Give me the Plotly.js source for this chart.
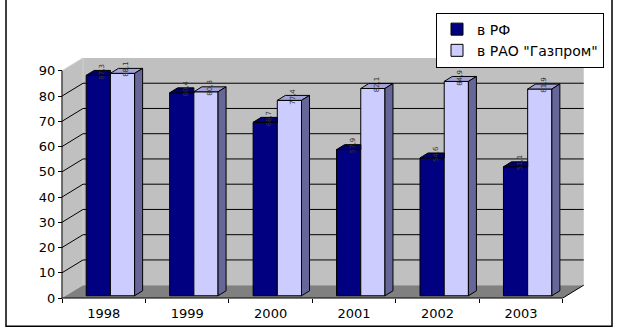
<!DOCTYPE html>
<html><head><meta charset="utf-8">
<script src="https://cdn.plot.ly/plotly-3.0.1.min.js"></script>
<style>html,body{margin:0;padding:0;background:#fff}</style>
</head><body><div id="chart" style="width:619px;height:334px"></div>
<script>
// ---- data ----
const years = ['1998', '1999', '2000', '2001', '2002', '2003'];
const valuesRF = [87.3, 80.4, 68.7, 57.9, 54.6, 51.1];
const valuesGazprom = [88.1, 80.8, 77.4, 82.1, 84.9, 81.9];
const valueTicks = [0, 10, 20, 30, 40, 50, 60, 70, 80, 90];
const seriesNames = ['в РФ', 'в РАО "Газпром"'];

// ---- 3D geometry (in axis units) ----
const DX = 0.252, DY = 5.09;      // depth of floor / walls
const OX = 0.05, OY = 0.9;        // bar front-face offset into depth
const BDX = 0.096, BDY = 1.96;    // bar depth
const W = 0.29, SHIFT = 0.03;     // bar width
const N = years.length;
const YMAX = valueTicks[valueTicks.length - 1];
const FONT = 'DejaVu Sans, Liberation Sans, Arial, sans-serif';

const colRF = {front: '#000080', top: '#00006a', side: '#000050'};
const colG = {front: '#ccccff', top: '#a3a3d6', side: '#666699'};

const xMid = years.map((_, i) => i + 0.5 + OX + SHIFT); // boundary between the two bars

function poly(list) { // list of polygons -> x,y arrays with null gaps
  const xs = [], ys = [];
  list.forEach(p => { p.forEach(pt => { xs.push(pt[0]); ys.push(pt[1]); }); xs.push(p[0][0]); ys.push(p[0][1]); xs.push(null); ys.push(null); });
  return {x: xs, y: ys};
}

const rfTops = [], rfSides = [], gTops = [], gSides = [];
for (let i = 0; i < N; i++) {
  const x1 = xMid[i], x0 = x1 - W, x2 = x1 + W;
  const r = valuesRF[i] + OY, g = valuesGazprom[i] + OY;
  if (valuesGazprom[i] >= valuesRF[i]) {
    rfTops.push([[x0, r], [x1, r], [x1, r + BDY], [x0 + BDX, r + BDY]]);
  } else {
    rfTops.push([[x0, r], [x1, r], [x1 + BDX, r + BDY], [x0 + BDX, r + BDY]]);
    rfSides.push([[x1, g], [x1, r], [x1 + BDX, r + BDY], [x1 + BDX, g + BDY]]);
  }
  gTops.push([[x1, g], [x2, g], [x2 + BDX, g + BDY], [x1 + BDX, g + BDY]]);
  gSides.push([[x2, OY], [x2, g], [x2 + BDX, g + BDY], [x2 + BDX, OY + BDY]]);
}

function faceTrace(list, color) {
  const p = poly(list);
  return {type: 'scatter', mode: 'lines', x: p.x, y: p.y, fill: 'toself', fillcolor: color,
    line: {color: '#000', width: 1}, hoverinfo: 'skip', showlegend: false};
}

const data = [
  {type: 'bar', name: seriesNames[0], x: xMid, y: valuesRF, base: OY, width: W, offset: -W,
   marker: {color: colRF.front, line: {color: '#000', width: 1}}},
  {type: 'bar', name: seriesNames[1], x: xMid, y: valuesGazprom, base: OY, width: W, offset: 0,
   marker: {color: colG.front, line: {color: '#000', width: 1}}},
  faceTrace(rfTops, colRF.top),
  faceTrace(rfSides, colRF.side),
  faceTrace(gTops, colG.top),
  faceTrace(gSides, colG.side)
];

// walls, floor, gridlines, axis lines
const P = (pts) => 'M' + pts.map(p => p[0] + ',' + p[1]).join('L') + 'Z';
const gridPath = valueTicks.filter(v => v > 0 && v < YMAX)
  .map(v => `M0,${v}L${DX},${v + DY}L${N + DX},${v + DY}`).join('');
const shapes = [
  {type: 'path', xref: 'x', yref: 'y', layer: 'below', path: P([[DX, DY], [N + DX, DY], [N + DX, YMAX + DY], [DX, YMAX + DY]]), fillcolor: '#c0c0c0', line: {width: 0}},
  {type: 'path', xref: 'x', yref: 'y', layer: 'below', path: P([[0, 0], [DX, DY], [DX, YMAX + DY], [0, YMAX]]), fillcolor: '#c0c0c0', line: {color: '#d0d0d0', width: 1}},
  {type: 'path', xref: 'x', yref: 'y', layer: 'below', path: P([[0, 0], [N, 0], [N + DX, DY], [DX, DY]]), fillcolor: '#808080', line: {width: 0}},
  {type: 'path', xref: 'x', yref: 'y', layer: 'below', path: gridPath, line: {color: '#000', width: 1}},
  {type: 'path', xref: 'x', yref: 'y', layer: 'below', path: `M0,0L0,${YMAX}`, line: {color: '#000', width: 1}},
  {type: 'path', xref: 'x', yref: 'y', layer: 'below', path: `M0,0L${N},0L${N + DX},${DY}`, line: {color: '#000', width: 1}},
  // chart-area border
  {type: 'path', xref: 'paper', yref: 'paper', layer: 'above', path: 'M-0.0892,1.25L-0.0892,-0.1028L1.0372,-0.1028L1.0372,1.25', line: {color: '#000', width: 1.5}}
];

const annotations = [];
for (let i = 0; i < N; i++) {
  [[valuesRF[i], xMid[i] - W / 2], [valuesGazprom[i], xMid[i] + W / 2]].forEach(([v, xc]) => {
    annotations.push({x: xc + BDX / 2, y: v + OY + BDY / 2 + 0.6, xref: 'x', yref: 'y', text: v.toFixed(1).replace('.', ','),
      textangle: -90, showarrow: false, font: {family: FONT, size: 7, color: '#333'}, xanchor: 'center', yanchor: 'middle'});
  });
}

const layout = {
  width: 619, height: 334,
  margin: {l: 54, r: 27, t: 53, b: 33, pad: 0},
  paper_bgcolor: '#fff', plot_bgcolor: 'rgba(0,0,0,0)',
  barmode: 'overlay',
  showlegend: true,
  legend: {x: (604 - 54) / 538, xanchor: 'right', y: (301 - 9) / 248, yanchor: 'top',
    bgcolor: '#fff', bordercolor: '#000', borderwidth: 1, font: {family: FONT, size: 14, color: '#000'},
    traceorder: 'normal'},
  xaxis: {range: [-0.0959, 6.351], anchor: 'free', position: 3 / 248, showgrid: false, zeroline: false, showline: false,
    tickmode: 'array', tickvals: years.map((_, i) => i + 0.5), ticktext: years, ticks: '',
    ticklabelstandoff: 6,
    minor: {ticks: 'outside', ticklen: 4, tickcolor: '#000', tickmode: 'array', tickvals: years.map((_, i) => i).concat([N]), showgrid: false},
    tickfont: {family: FONT, size: 13, color: '#000'}, fixedrange: true},
  yaxis: {range: [-1.174, 95.87], anchor: 'free', position: 8 / 538, showgrid: false, zeroline: false, showline: false,
    tickmode: 'array', tickvals: valueTicks, ticks: 'outside', ticklen: 4, tickcolor: '#000',
    tickfont: {family: FONT, size: 13, color: '#000'}, fixedrange: true},
  shapes: shapes,
  annotations: annotations
};

Plotly.newPlot('chart', data, layout, {staticPlot: true, displayModeBar: false});
</script></body></html>
